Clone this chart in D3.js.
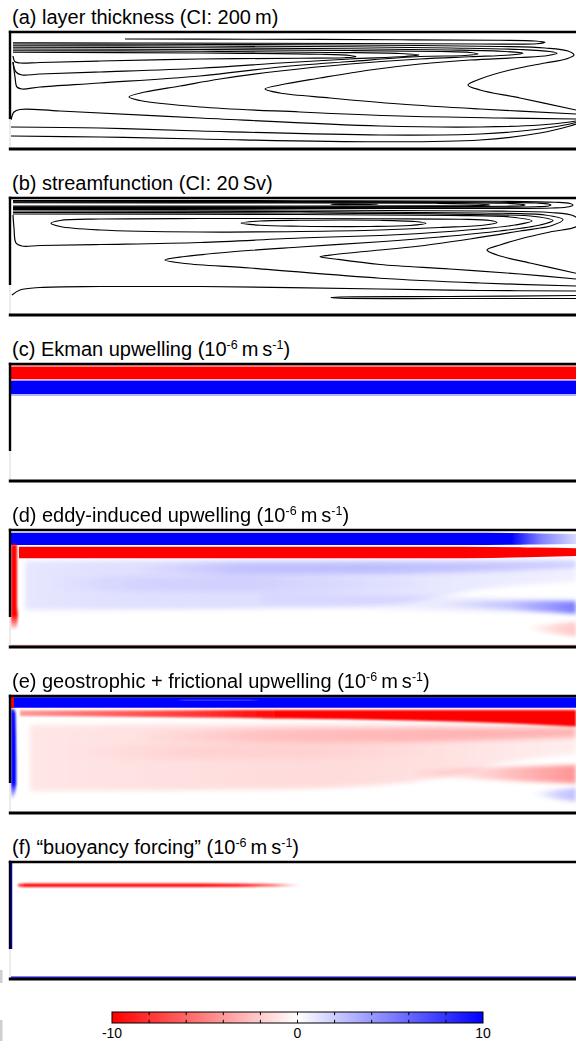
<!DOCTYPE html>
<html><head><meta charset="utf-8">
<script src="https://cdn.jsdelivr.net/npm/d3@7"></script>
<style>body{margin:0;background:#fff}svg{display:block}text{font-family:"Liberation Sans",Arial,Helvetica,sans-serif}</style>
</head><body><svg id="fig" width="576" height="1041"></svg>
<script>
// ---------------- DATA (km along basin, km across basin; values in 1e-6 m/s) ----------------
const basinWidthKm = 2260, basinDepthKm = 468, coastDepthKm = 348;

const titles = [
  [["(a) layer thickness (CI: 200\u2009m)",0]],
  [["(b) streamfunction (CI: 20\u2009Sv)",0]],
  [["(c) Ekman upwelling (10",0],["-6",1],["\u2009m\u2009s",0],["-1",1],[")",0]],
  [["(d) eddy-induced upwelling (10",0],["-6",1],["\u2009m\u2009s",0],["-1",1],[")",0]],
  [["(e) geostrophic + frictional upwelling (10",0],["-6",1],["\u2009m\u2009s",0],["-1",1],[")",0]],
  [["(f) \u201cbuoyancy forcing\u201d (10",0],["-6",1],["\u2009m\u2009s",0],["-1",1],[")",0]]
];

// (a) layer thickness contours [x km, y km]
const contoursA = [
  [[456,28],[956,29],[1556,31],[1956,33],[2096,36],[2136,41],[2104,47],[1876,48],[1356,46],[556,44],[116,43],[8,43]],
  [[8,48],[556,49],[1156,51],[1636,54],[1956,58],[2136,64],[2228,76],[2252,92],[2220,108],[2136,124],[1996,152],[1876,188],[1828,212],[1876,232],[2036,264],[2260,312]],
  [[8,55],[756,56],[1356,59],[1756,64],[2036,70],[2156,78],[2184,85],[2148,94],[2036,102],[1836,112],[1636,128],[1436,152],[1236,184],[1076,212],[1016,228],[1076,244],[1276,264],[1556,288],[1876,308],[2260,328]],
  [[8,61],[756,63],[1356,67],[1756,72],[1976,78],[2048,85],[1996,92],[1836,99],[1636,108],[1356,128],[1076,156],[836,188],[676,216],[536,240],[472,260],[516,274],[756,300],[1156,320],[1556,336],[1956,344],[2260,348]],
  [[8,68],[756,70],[1356,74],[1716,78],[1836,82],[1868,88],[1816,94],[1636,98],[1356,118],[1076,140],[756,176],[356,204],[116,220],[44,228],[24,220],[16,180],[8,120]],
  [[8,75],[756,77],[1276,82],[1556,86],[1632,92],[1576,98],[1356,108],[1076,124],[756,145],[356,160],[116,168],[44,172],[20,160],[8,120]],
  [[8,81],[756,84],[1236,89],[1356,94],[1380,99],[1336,103],[1156,105],[756,108],[356,116],[116,122],[36,124],[16,119],[8,96]],
  [[0,352],[12,320],[36,310],[196,316],[756,344],[1476,376],[1876,380],[2116,372],[2236,360],[2260,356]],
  [[0,380],[356,384],[756,396],[1476,412],[1876,408],[2116,388],[2236,368],[2260,362]],
  [[0,416],[356,420],[756,428],[1476,439],[1876,432],[2116,404],[2236,376],[2260,368]]
];

// (b) streamfunction contours [x km, y km]
const contoursB = [
  [[8,10],[1156,11],[1956,13],[2176,17],[2236,22],[2248,28],[2232,35],[2164,40],[1956,42],[1156,42],[8,42]],
  [[8,13],[1156,14],[1900,16],[2100,20],[2150,24],[2160,28],[2150,32],[2100,35],[1900,37],[1156,38],[8,38]],
  [[8,16],[1156,16.5],[1760,18],[1980,21],[2040,25],[2056,28],[2040,31],[1980,33],[1760,34.5],[1156,35],[8,35]],
  [[8,19],[1156,19.5],[1700,21],[1860,24],[1916,28],[1860,30.5],[1700,31.5],[1156,32],[8,32]],
  [[8,46],[1156,48],[1876,52],[2156,58],[2252,72],[2276,96],[2260,115],[2156,136],[2036,164],[1956,188],[1904,208],[1944,228],[2076,260],[2260,301]],
  [[8,52],[1156,54],[1876,60],[2136,68],[2208,86],[2164,110],[2036,132],[1836,164],[1636,192],[1436,212],[1296,226],[1236,235],[1296,244],[1476,266],[1756,284],[2036,304],[2260,324]],
  [[8,58],[1156,60],[1876,66],[2096,74],[2168,90],[2116,108],[1956,132],[1716,156],[1476,175],[1156,196],[876,216],[696,234],[616,248],[696,262],[956,280],[1476,321],[1876,340],[2260,352]],
  [[8,64],[1156,66],[1756,70],[1996,76],[2084,92],[2016,108],[1876,124],[1636,142],[1476,150],[1156,160],[756,178],[356,186],[116,190],[44,192],[20,180],[12,120],[8,68]],
  [[4,388],[36,368],[116,358],[356,354],[756,354],[1476,364],[1876,370],[2260,372]],
  [[2260,390],[1756,394],[1316,396],[1280,398],[1316,401],[1756,402],[2260,402]]
];
// closed contours in (b)
const closedB = [
  [[1280,25],[1300,24],[1374,24],[1468,25],[1374,26],[1300,26]],
  [[160,101],[196,90],[356,84],[756,82],[1476,83],[1796,85],[1916,90],[1944,98],[1896,108],[1716,118],[1476,128],[1156,134],[756,136],[356,128],[196,114]],
  [[920,100],[996,92],[1156,89],[1476,89],[1616,94],[1660,101],[1596,110],[1436,114],[1156,113],[996,109]]
];

// (c) Ekman upwelling: across-basin profile (uniform along x)
const ekmanY0 = [4, 11, 61, 64, 67, 121];
const ekmanY1 = [11, 61, 64, 67, 121, 128];
const ekmanV  = [-4, -12, -3, 3, 12, 3];

// shaded streaks: [x km, yTop km, yBottom km, value]; mix = layered over weaker signal
const eddyBands = [
  {blur:2.5, mix:1, pts:[[56,124,320,1.0],[400,122,318,1.2],[1000,120,314,1.3],[1500,120,300,1.1],[1900,118,235,0.8],[2260,118,205,0.6]]},
  {blur:2.5, mix:1, pts:[[1000,250,300,0.2],[1500,262,318,0.6],[1900,272,325,1.0],[2260,280,332,1.2]]},
  {blur:2.5, mix:1, pts:[[150,190,240,0],[500,186,244,0.5],[900,184,246,0.6],[1300,190,244,0.3],[1700,200,238,0]]},
  {blur:2.5, mix:1, pts:[[500,140,170,0],[900,130,178,1.2],[1400,128,176,1.6],[1900,126,166,1.6],[2260,122,150,1.3]]},
  {blur:2,   mix:1, pts:[[1700,292,300,0],[2000,284,318,1.5],[2150,284,328,3.2],[2260,286,336,4.5]]},
  {blur:2,   pts:[[2050,390,394,0],[2180,374,416,-1.5],[2260,368,426,-2.2]]},
  {blur:0.5, pts:[[0,1,4,-5],[2260,1,4,-5]]},
  {blur:0.6, pts:[[0,11,60,12],[1800,11,60,12],[2000,12,59,10],[2120,14,58,5],[2260,16,56,1.5]]},
  {blur:0.6, pts:[[32,67,113,-12],[1800,67,113,-12],[2100,70,108,-12],[2260,73,104,-10]]},
  {blur:0.5, pts:[[0,459,463,-4],[2260,459,463,-4]]}
];
// wall streaks: [y km, xLeft km, xRight km, value]
const eddyWall = [{blur:0.8, pts:[[58,0,24,-12],[300,0,24,-12],[340,0,27,-10],[372,0,26,-5],[400,0,22,0]]}];

const geoBands = [
  {blur:2.5, mix:1, pts:[[76,116,380,-1.0],[600,114,378,-1.2],[1200,114,370,-1.4],[1700,114,330,-1.2],[2000,116,262,-0.9],[2260,118,232,-0.7]]},
  {blur:2.5, mix:1, pts:[[200,200,250,0],[700,196,252,-0.5],[1300,192,250,-0.4],[1700,200,240,0]]},
  {blur:2.5, mix:1, pts:[[500,150,180,0],[1000,134,186,-1.2],[1500,130,186,-1.7],[1900,128,176,-2.2],[2260,124,166,-2.4]]},
  {blur:2,   mix:1, pts:[[1600,300,318,0],[1900,286,334,-1.8],[2100,280,344,-3.2],[2260,276,350,-4.2]]},
  {blur:2,   pts:[[2080,390,394,0],[2190,374,414,1.8],[2260,368,422,2.5]]},
  {blur:1.2, pts:[[36,58,80,-4],[356,58,82,-6],[756,57,86,-8],[1100,56,90,-12],[1600,56,98,-12],[2000,56,110,-12],[2260,56,122,-12]]},
  {blur:0.6, pts:[[0,5,47,12],[2260,5,47,12]]},
  {blur:0.4, pts:[[660,15,18,12],[700,15,18,6],[950,15,18,6],[1000,15,18,12]]},
  {blur:0.4, pts:[[0,4,48,-12],[12,4,48,-12]]}
];
const geoWall = [{blur:0.8, pts:[[52,0,12,8],[70,0,18,12],[300,0,21,12],[350,0,21,11],[380,0,18,5],[412,0,12,0]]}];

const buoyBands = [
  {blur:0.8, pts:[[28,89,97,-9],[60,86,100,-12],[600,86,100,-12],[900,87,99,-11],[1050,88,98,-6],[1156,90,96,0]]},
  {blur:0.4, pts:[[0,458,463,10],[2260,458,463,10]]}
];
const buoyWall = [{blur:0.3, pts:[[0,0,5,10],[348,0,5,10]]}];

// colour bar
const cbMin = -10, cbMax = 10;
const cbTicks = [-10,-8,-6,-4,-2,0,2,4,6,8,10];
const cbLabels = [-10, 0, 10];

// ---------------- DRAWING ----------------
const W = 576, H = 1041;
const panelTops = [32,198,364,530,696,862], panelH = 117;
const svg = d3.select("#fig");
svg.append("rect").attr("width",W).attr("height",H).attr("fill","#fff");
const defs = svg.append("defs");
const color = d3.scaleLinear().domain([cbMin,0,cbMax]).range(["#ff0000","#ffffff","#0000ff"]).clamp(true);
const x = d3.scaleLinear().domain([0,basinWidthKm]).range([11,576]);
const yFor = top => d3.scaleLinear().domain([0,basinDepthKm]).range([top, top+panelH]);

const blurIds = {};
function blurId(s){
  const k = String(s).replace(".","_");
  if(!blurIds[k]){
    const f = defs.append("filter").attr("id","bl"+k).attr("filterUnits","userSpaceOnUse")
      .attr("x",-20).attr("y",-20).attr("width",W+40).attr("height",H+40);
    f.append("feGaussianBlur").attr("stdDeviation",s);
    blurIds[k] = "bl"+k;
  }
  return blurIds[k];
}
let gid = 0;
function gradient(vertical, c0, c1, stops){
  const id = "gr"+(gid++);
  const g = defs.append("linearGradient").attr("id",id).attr("gradientUnits","userSpaceOnUse");
  if(vertical) g.attr("x1",0).attr("x2",0).attr("y1",c0).attr("y2",c1);
  else g.attr("y1",0).attr("y2",0).attr("x1",c0).attr("x2",c1);
  stops.forEach(s=>g.append("stop").attr("offset",s[0]).attr("stop-color",s[1]));
  return id;
}
function drawBands(g, y, bands){
  bands.forEach(b=>{
    const p = b.pts, a = p[0][0], z = p[p.length-1][0];
    const id = gradient(false, x(a), x(z), p.map(d=>[(d[0]-a)/(z-a), color(d[3])]));
    const area = d3.area().x(d=>x(d[0])).y0(d=>y(d[1])).y1(d=>y(d[2])).curve(d3.curveMonotoneX);
    const el = g.append("path").attr("d",area(p)).attr("fill",`url(#${id})`).attr("filter",`url(#${blurId(b.blur)})`);
    if(b.mix) el.style("mix-blend-mode","multiply");
  });
}
function drawWall(g, y, bands){
  bands.forEach(b=>{
    const p = b.pts, a = p[0][0], z = p[p.length-1][0];
    const id = gradient(true, y(a), y(z), p.map(d=>[(d[0]-a)/(z-a), color(d[3])]));
    const area = d3.area().y(d=>y(d[0])).x0(d=>x(d[1])).x1(d=>x(d[2])).curve(d3.curveMonotoneY);
    g.append("path").attr("d",area(p)).attr("fill",`url(#${id})`).attr("filter",`url(#${blurId(b.blur)})`);
  });
}
function drawContours(g, y, lines, closed){
  const ln = d3.line().x(d=>x(d[0])).y(d=>y(d[1])).curve(d3.curveCatmullRom.alpha(0.5));
  const lc = d3.line().x(d=>x(d[0])).y(d=>y(d[1])).curve(d3.curveCatmullRomClosed.alpha(0.5));
  lines.forEach(l=>g.append("path").attr("d",ln(l)).attr("fill","none").attr("stroke","#000").attr("stroke-width",1.2));
  (closed||[]).forEach(l=>g.append("path").attr("d",lc(l)).attr("fill","none").attr("stroke","#000").attr("stroke-width",1.2));
}

panelTops.forEach((T,i)=>{
  const y = yFor(T);
  const cid = "clip"+i;
  defs.append("clipPath").attr("id",cid).append("rect").attr("x",10.5).attr("y",T+0.5).attr("width",W).attr("height",panelH-1);
  const g = svg.append("g").attr("clip-path",`url(#${cid})`);
  if(i===0) drawContours(g, y, contoursA);
  if(i===1) drawContours(g, y, contoursB, closedB);
  if(i===2){
    const bands = ekmanV.map((v,k)=>({blur:0.4, pts:[[0,ekmanY0[k],ekmanY1[k],v],[basinWidthKm,ekmanY0[k],ekmanY1[k],v]]}));
    drawBands(g, y, bands);
  }
  if(i===3){ drawBands(g, y, eddyBands); drawWall(g, y, eddyWall); }
  if(i===4){ drawBands(g, y, geoBands); drawWall(g, y, geoWall); }
  if(i===5){ drawBands(g, y, buoyBands); drawWall(g, y, buoyWall); }

  // frame
  svg.append("line").attr("x1",10).attr("x2",10).attr("y1",y(coastDepthKm)).attr("y2",T+panelH)
    .attr("stroke","#d8d8d8").attr("stroke-width",1);
  svg.append("line").attr("x1",8.8).attr("x2",W+2).attr("y1",T).attr("y2",T).attr("stroke","#000").attr("stroke-width",2.6);
  svg.append("line").attr("x1",8.8).attr("x2",W+2).attr("y1",T+panelH).attr("y2",T+panelH).attr("stroke","#000").attr("stroke-width",2.8);
  svg.append("line").attr("x1",10).attr("x2",10).attr("y1",T-1.3).attr("y2",y(coastDepthKm)).attr("stroke","#000").attr("stroke-width",2.4);

  // title
  const t = svg.append("text").attr("x",12).attr("y",T-8.5).attr("font-size",20).attr("fill","#000");
  let prevSup = 0;
  titles[i].forEach(([s,sup])=>{
    const ts = t.append("tspan").text(s);
    if(sup) ts.attr("font-size",12.5);
    if(sup && !prevSup) ts.attr("dy",-7);
    if(!sup && prevSup) ts.attr("dy",7);
    prevSup = sup;
  });
});

// stray marks at left margin
svg.append("rect").attr("x",0).attr("y",970).attr("width",2.5).attr("height",13).attr("fill","#cfcfcf");
svg.append("rect").attr("x",0).attr("y",1020).attr("width",2.5).attr("height",21).attr("fill","#cfcfcf");

// colour bar
const cbX = d3.scaleLinear().domain([cbMin,cbMax]).range([112,483]);
const cbY = 1012, cbH = 11;
const cbId = gradient(false, cbX(cbMin), cbX(cbMax), cbTicks.map(v=>[(v-cbMin)/(cbMax-cbMin), color(v)]));
svg.append("rect").attr("x",cbX(cbMin)).attr("y",cbY).attr("width",cbX(cbMax)-cbX(cbMin)).attr("height",cbH)
  .attr("fill",`url(#${cbId})`).attr("stroke","#000").attr("stroke-width",1);
cbTicks.slice(1,-1).forEach(v=>{
  svg.append("line").attr("x1",cbX(v)).attr("x2",cbX(v)).attr("y1",cbY).attr("y2",cbY+cbH)
    .attr("stroke","#000").attr("stroke-width",1).attr("stroke-dasharray","3.2,4.6");
});
cbLabels.forEach(v=>{
  svg.append("text").attr("x",cbX(v)).attr("y",1038).attr("text-anchor","middle").attr("font-size",14).text(v);
});
</script></body></html>
